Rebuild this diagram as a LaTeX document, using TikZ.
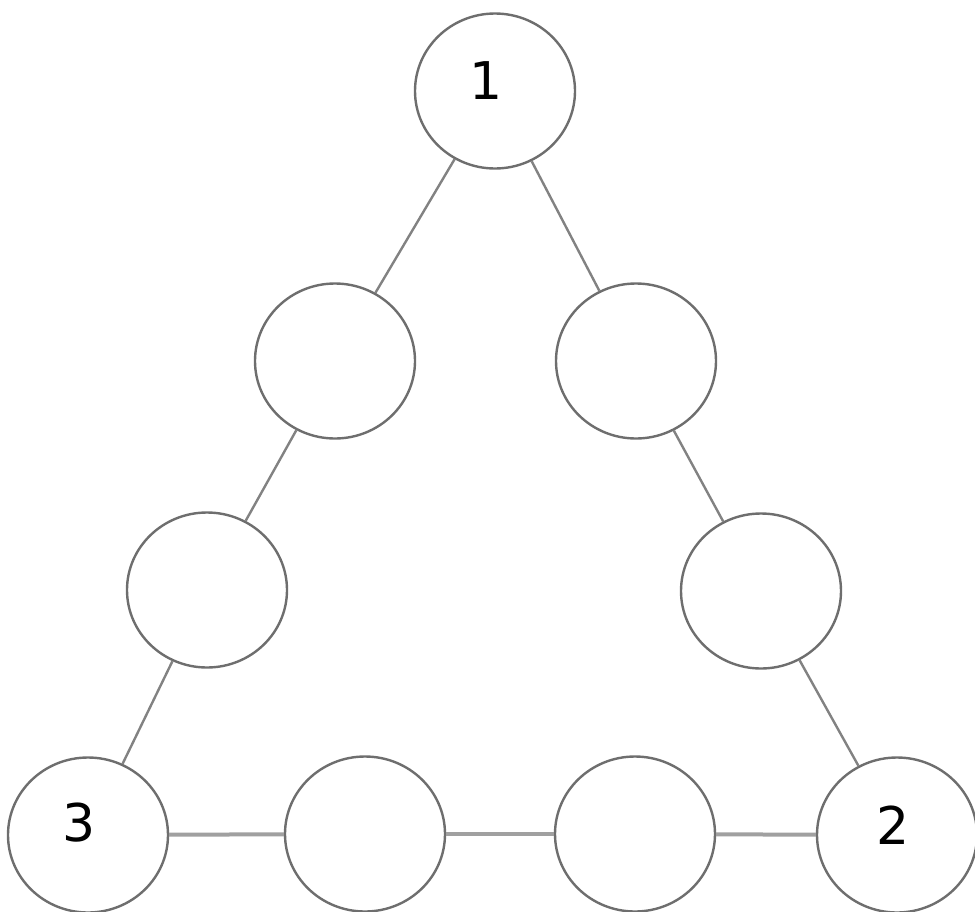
\documentclass[tikz,border=0pt]{standalone}
\usepackage{fontspec}
\setmainfont{DejaVu Sans}
\usetikzlibrary{shapes.geometric}
\definecolor{ringgray}{RGB}{110,110,110}
\definecolor{linegray}{RGB}{130,130,130}
\definecolor{hlinegray}{RGB}{160,160,160}
\tikzset{
  ball/.style={ellipse, draw=ringgray, line width=2.4pt, fill=white,
    minimum width=160pt, minimum height=155pt, inner sep=0pt},
  num/.style={font=\fontsize{52}{52}\selectfont, text=black},
  edge/.style={draw=linegray, line width=2.4pt},
  hedge/.style={draw=hlinegray, line width=4pt}
}
\begin{document}
\begin{tikzpicture}[x=1pt,y=-1pt]
\useasboundingbox (0,0) rectangle (975,911);
\node[ball] (n1) at (495,91) {};
\node[ball] (lu) at (335,361) {};
\node[ball] (ru) at (636,361) {};
\node[ball] (lm) at (207,590) {};
\node[ball] (rm) at (761,591) {};
\node[ball] (n3) at (88,835) {};
\node[ball] (b1) at (365,834) {};
\node[ball] (b2) at (635,834) {};
\node[ball] (n2) at (897,835) {};
\node[num] (t1) at (486,81) {1};
\node[num] (t3) at (79,823) {3};
\node[num] (t2) at (893,825) {2};
\draw[edge] (n1) -- (lu);
\draw[edge] (lu) -- (lm);
\draw[edge] (lm) -- (n3);
\draw[edge] (n1) -- (ru);
\draw[edge] (ru) -- (rm);
\draw[edge] (rm) -- (n2);
\draw[hedge] (n3) -- (b1);
\draw[hedge] (b1) -- (b2);
\draw[hedge] (b2) -- (n2);
\end{tikzpicture}
\end{document}
